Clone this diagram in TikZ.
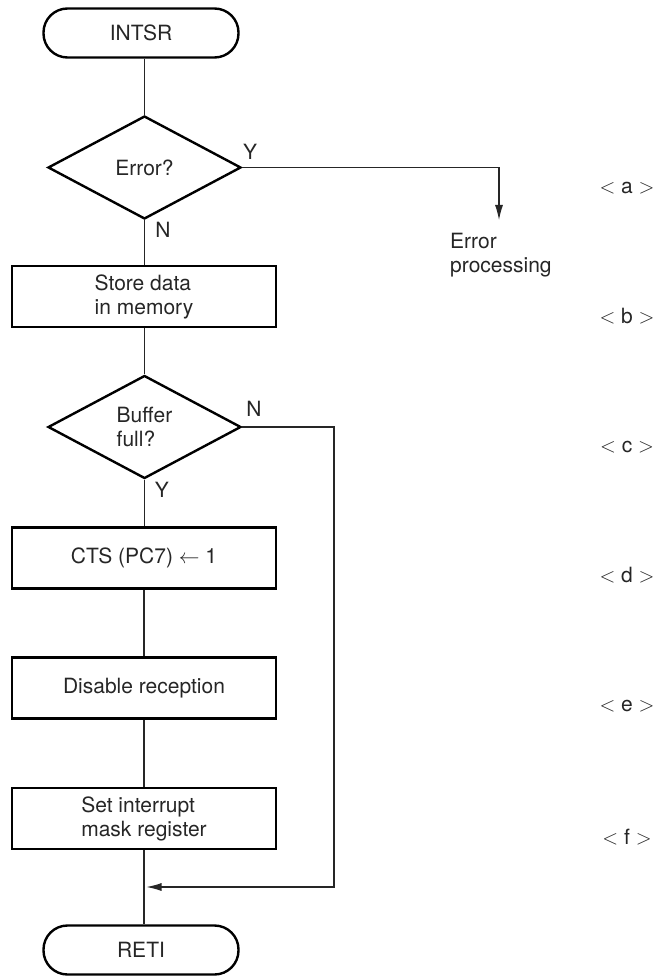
\documentclass[tikz,border=0pt]{standalone}
\usepackage{fontspec}
\setmainfont{TeX Gyre Heros}
\usetikzlibrary{shapes.geometric,arrows.meta}
\begin{document}
\begin{tikzpicture}[x=1pt,y=-1pt,
  font=\fontsize{21}{24}\selectfont,
  every node/.style={text=black!85},
  term/.style={draw,line width=2.4pt,rounded corners=24pt,minimum width=195pt,minimum height=49pt,inner sep=0pt},
  proc/.style={draw,line width=2.4pt,minimum width=264pt,minimum height=61pt,inner sep=0pt,align=left},
  dec/.style={draw,line width=2.4pt,diamond,aspect=1.857,minimum width=193pt,minimum height=103pt,inner sep=0pt,align=left},
  conn/.style={line width=1.1pt,draw=black!85},
  arr/.style={conn,-{Latex[length=15pt,width=8pt]}},
  lbl/.style={inner sep=0pt},
]
\useasboundingbox (0,0) rectangle (655,976);
% flow nodes
\node[term] (start) at (141,33) {INTSR};
\node[dec]  (err)   at (144.5,167.5) {Error?};
\node[proc] (store) at (144,296.5) {Store data\\in memory};
\node[dec]  (buf)   at (144.5,427) {Buffer\\full?};
\node[proc] (cts)   at (144,558) {CTS (PC7) $\leftarrow$ 1};
\node[proc] (dis)   at (144,688) {Disable reception};
\node[proc] (set)   at (144,818.5) {Set interrupt\\mask register};
\node[term] (reti)  at (141,950) {RETI};
% side text
\node[lbl,align=left,anchor=north west] (errp) at (450,233) {Error\\processing};
% branch labels
\node[lbl] (y1) at (250,152) {Y};
\node[lbl] (n1) at (163,230) {N};
\node[lbl] (n2) at (254,409) {N};
\node[lbl] (y2) at (162,490) {Y};
% step labels
\node[lbl] (la) at (627,188) {$<$ a $>$};
\node[lbl] (lb) at (627,316) {$<$ b $>$};
\node[lbl] (lc) at (627,447) {$<$ c $>$};
\node[lbl] (ld) at (627,575) {$<$ d $>$};
\node[lbl] (le) at (627,706) {$<$ e $>$};
\node[lbl] (lf) at (627,837) {$<$ f $>$};
% connectors
\draw[conn] (start.south -| err.north) -- (err.north);
\draw[conn] (err.south) -- (store.north -| err.south);
\draw[conn] (store.south -| buf.north) -- (buf.north);
\draw[conn] (buf.south) -- (cts.north -| buf.south);
\draw[conn] (cts.south) -- (dis.north);
\draw[conn] (dis.south) -- (set.north);
\draw[conn] (set.south) -- (reti.north -| set.south);
\coordinate (etip) at (499,220);
\draw[arr] (err.east) -| (etip);
\coordinate (lcorner) at (334,887);
\coordinate (ltip) at (146.5,887);
\draw[arr] (buf.east) -| (lcorner) -- (ltip);
\end{tikzpicture}
\end{document}
